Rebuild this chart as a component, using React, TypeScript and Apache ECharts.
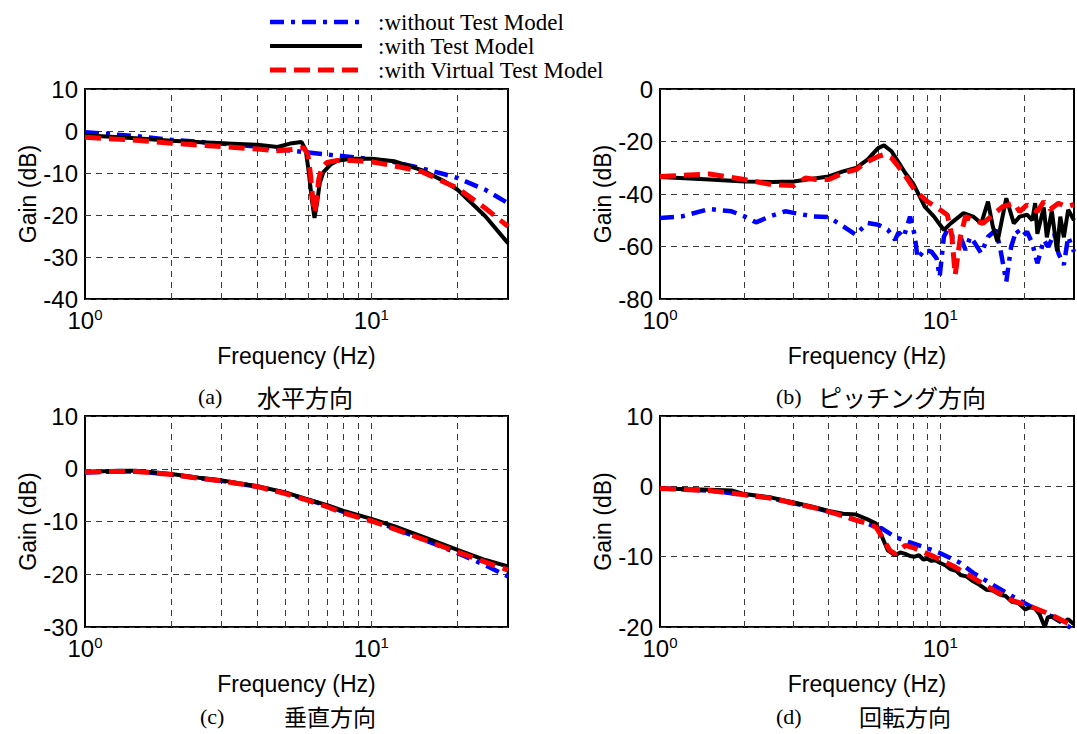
import React, { useEffect, useRef } from "react";
import * as echarts from "echarts";

// ---------- data ----------
const NAME_BLUE = ":without Test Model";
const NAME_BLACK = ":with Test Model";
const NAME_RED = ":with Virtual Test Model";

// (a) horizontal
const aBlueF = [1, 1.5, 2, 3, 4, 5, 6, 7, 8, 10, 12, 15, 18, 20, 25, 30];
const aBlueG = [-0.3, -1.2, -2.1, -3.0, -3.7, -4.5, -5.1, -5.6, -6.0, -6.7, -7.4, -8.9, -10.3, -11.2, -14.0, -17.2];
const aBlackF = [1, 1.5, 2, 3, 4, 4.7, 5.2, 5.7, 5.9, 6.05, 6.2, 6.33, 6.45, 6.6, 6.8, 7.2, 7.6, 8.5, 10, 12, 15, 18, 20, 25, 30];
const aBlackG = [-1.0, -1.7, -2.3, -2.9, -3.3, -3.8, -3.0, -2.6, -4.5, -10.0, -16.5, -20.7, -17.5, -12.5, -9.8, -8.0, -7.1, -6.6, -6.6, -7.2, -9.3, -12.0, -14.0, -20.3, -26.7];
const aRedF = [1, 1.5, 2, 3, 4, 4.7, 5.3, 5.8, 6.0, 6.12, 6.24, 6.33, 6.42, 6.55, 6.7, 7.0, 7.6, 8.5, 10, 12, 15, 18, 20, 25, 30];
const aRedG = [-1.5, -2.2, -2.9, -3.7, -4.3, -4.7, -4.4, -4.0, -5.5, -10.0, -16.0, -19.5, -17.0, -11.5, -8.8, -7.5, -7.0, -7.0, -7.3, -8.3, -9.7, -12.2, -13.6, -18.4, -22.7];

// (b) pitching
const bBlueF = [1, 1.2, 1.5, 1.8, 2, 2.2, 2.5, 2.8, 3, 3.5, 4, 4.5, 5, 5.5, 6, 6.5, 6.9, 7.1, 7.4, 7.8, 8.1, 8.3, 8.8, 9.3, 9.7, 9.95, 10.3, 10.6, 11.1, 11.8, 12.3, 12.8, 13.3, 14.0, 14.8, 15.8, 16.4, 17.2, 17.9, 18.7, 19.5, 20.4, 21.3, 22.2, 23.4, 24.3, 25.5, 26.4, 27.6, 28.6, 30];
const bBlueG = [-49.1, -48.5, -45.7, -46.6, -48.5, -50.8, -48.3, -46.6, -47.2, -48.5, -48.8, -52.3, -55.5, -51.0, -51.7, -53.6, -57.5, -54.6, -56.5, -48.6, -55.5, -64.5, -61.2, -62.0, -64.5, -71.5, -56.3, -53.7, -56.3, -56.3, -61.3, -56.3, -58.8, -62.6, -56.3, -53.7, -61.3, -73.4, -60.1, -53.7, -56.3, -54.4, -58.8, -66.4, -57.5, -60.1, -55.0, -62.6, -67.0, -56.3, -62.0];
const bBlackF = [1, 1.5, 2, 2.5, 3, 3.5, 4, 4.5, 5, 5.5, 6, 6.3, 6.7, 7.2, 7.5, 8, 8.4, 8.8, 9.5, 10.3, 10.9, 12.1, 13.1, 14.0, 14.8, 15.4, 16.0, 17.2, 18.3, 19.2, 20.4, 21.3, 21.8, 22.2, 23.4, 24, 25, 26.1, 26.8, 27.6, 28.6, 30];
const bBlackG = [-33.5, -34.5, -35.2, -35.4, -35.2, -34.2, -33.3, -31.4, -30.1, -26.9, -22.5, -21.5, -23.7, -29.0, -32.0, -36.0, -40.4, -44.8, -48.6, -53.7, -51.2, -47.3, -48.6, -51.2, -42.9, -52.4, -58.2, -41.6, -51.2, -48.6, -47.9, -50.0, -43.5, -55.2, -45.1, -56.5, -46.4, -61.7, -48.6, -56.5, -46.0, -50.0];
const bRedF = [1, 1.5, 2, 2.5, 3, 3.3, 3.6, 4, 4.5, 5, 5.5, 6, 6.3, 6.7, 7, 7.5, 8.1, 9.0, 9.8, 10.6, 11.0, 11.3, 11.8, 12.3, 13.1, 14.2, 15.4, 16.7, 18.3, 19.2, 20.4, 22.2, 23.4, 24.7, 26.4, 28.2, 30];
const bRedG = [-33.3, -32.4, -34.5, -36.4, -36.8, -33.9, -34.5, -34.5, -32.0, -30.7, -27.6, -25.7, -25.0, -26.3, -28.8, -33.0, -38.5, -42.9, -45.4, -48.0, -56.0, -70.9, -56.3, -48.6, -49.8, -51.2, -48.0, -44.8, -43.5, -46.7, -44.1, -46.7, -42.9, -45.8, -43.5, -44.8, -44.0];

// (c) vertical
const cF = [1, 1.3, 1.5, 2, 2.5, 3, 4, 5, 6, 7, 8, 10, 12, 15, 20, 25, 30];
const cBlueG = [-0.7, -0.5, -0.5, -1.1, -1.8, -2.3, -3.4, -4.6, -5.9, -7.0, -8.2, -9.7, -11.3, -13.3, -16.0, -18.3, -20.4];
const cBlackG = [-0.6, -0.4, -0.4, -1.0, -1.7, -2.2, -3.3, -4.5, -5.8, -6.9, -8.0, -9.5, -10.9, -12.8, -15.4, -17.3, -18.5];
const cRedG = [-0.6, -0.5, -0.5, -1.1, -1.8, -2.3, -3.4, -4.7, -6.0, -7.2, -8.4, -9.9, -11.4, -13.3, -15.8, -17.7, -19.2];

// (d) rotation
const dBlueF = [1, 1.5, 2, 2.5, 3, 3.5, 4, 4.5, 5, 5.5, 5.9, 6.2, 6.9, 7.7, 8.7, 10, 11.8, 13.1, 15.4, 18, 21.1, 25, 28.6, 30];
const dBlueG = [-0.3, -0.6, -1.2, -1.7, -2.4, -3.0, -3.6, -4.2, -4.8, -5.3, -5.8, -6.0, -7.2, -7.9, -8.6, -9.5, -10.9, -12.3, -14.0, -15.6, -17.1, -18.5, -19.9, -20.5];
const dBlackF = [1, 1.5, 1.8, 2, 2.5, 3, 3.5, 4, 4.5, 5, 5.5, 5.9, 6.2, 6.5, 6.9, 7.2, 7.5, 7.8, 8.1, 8.4, 8.7, 9.0, 9.3, 9.6, 10, 10.5, 10.9, 11.4, 11.8, 12.4, 13.1, 13.8, 14.6, 15.4, 16.3, 17.1, 18.0, 19.0, 20.1, 20.9, 21.7, 22.6, 23.6, 24.2, 25.3, 26.5, 27.8, 28.6, 30];
const dBlackG = [-0.3, -0.5, -0.6, -1.1, -1.6, -2.3, -2.9, -3.5, -3.9, -4.0, -4.7, -5.3, -7.2, -9.1, -9.8, -9.4, -9.6, -9.9, -10.0, -9.8, -10.4, -10.3, -10.6, -10.5, -10.9, -11.3, -11.8, -12.0, -12.6, -12.8, -13.5, -14.0, -14.7, -14.8, -15.4, -15.6, -16.4, -16.6, -17.5, -17.2, -17.3, -18.2, -20.0, -18.6, -18.5, -19.1, -19.2, -18.9, -19.6];
const dRedF = [1, 1.5, 2, 2.5, 3, 3.5, 4, 4.5, 5, 5.5, 5.9, 6.2, 6.6, 6.9, 7.5, 8.1, 9.5, 11.2, 13.1, 15.4, 18, 21.1, 25, 28.6, 30];
const dRedG = [-0.3, -0.6, -1.2, -1.7, -2.4, -3.0, -3.6, -4.2, -4.8, -5.3, -5.8, -7.2, -9.1, -9.6, -8.4, -8.8, -10.0, -11.4, -13.0, -14.7, -16.2, -17.1, -18.3, -19.5, -20.0];

const minorGridFreqs = [2, 3, 4, 5, 6, 7, 8, 9, 10, 20];

const captionLetters = ["(a)", "(b)", "(c)", "(d)"];
const captionTexts = ["水平方向", "ピッチング方向", "垂直方向", "回転方向"];

// ---------- styling ----------
const SANS = "'Liberation Sans', Arial, sans-serif";
const SERIF = "'Liberation Serif', 'Times New Roman', serif";
const CJK = "'Noto Sans CJK JP', sans-serif";

const BLUE_STYLE = { color: "#0000ff", width: 4.5, dash: [14, 7, 4, 7] };
const BLACK_STYLE = { color: "#000000", width: 4, dash: null as any };
const RED_STYLE = { color: "#ff0000", width: 5, dash: [16, 8] };

const zip = (f: number[], g: number[]) => f.map((v, i) => [v, g[i]]);

const panels = [
  { left: 85, top: 89, width: 423, height: 210, min: -40, max: 10, interval: 10,
    blue: zip(aBlueF, aBlueG), black: zip(aBlackF, aBlackG), red: zip(aRedF, aRedG) },
  { left: 660, top: 89, width: 422, height: 210, min: -80, max: 0, interval: 20,
    blue: zip(bBlueF, bBlueG), black: zip(bBlackF, bBlackG), red: zip(bRedF, bRedG) },
  { left: 85, top: 416, width: 423, height: 211, min: -30, max: 10, interval: 10,
    blue: zip(cF, cBlueG), black: zip(cF, cBlackG), red: zip(cF, cRedG) },
  { left: 660, top: 416, width: 422, height: 211, min: -20, max: 10, interval: 10,
    blue: zip(dBlueF, dBlueG), black: zip(dBlackF, dBlackG), red: zip(dRedF, dRedG) },
];

const captionPos = [
  { lx: 198, kx: 257, y: 396, fs: 24 },
  { lx: 776, kx: 818, y: 396, fs: 24 },
  { lx: 200, kx: 284, y: 716, fs: 23 },
  { lx: 776, kx: 859, y: 716, fs: 23 },
];

const legendRows = [
  { name: NAME_BLUE, style: BLUE_STYLE, y: 22 },
  { name: NAME_BLACK, style: BLACK_STYLE, y: 46 },
  { name: NAME_RED, style: RED_STYLE, y: 70 },
];

function lineSeries(name: string, s: any, i: number, data: number[][], z: number) {
  return {
    name, type: "line", xAxisIndex: i, yAxisIndex: i, data,
    showSymbol: false, symbol: "none", z,
    lineStyle: { color: s.color, width: s.width, type: s.dash || "solid" },
    itemStyle: { color: s.color },
  };
}

function buildOption() {
  const grid: any[] = [];
  const xAxis: any[] = [];
  const yAxis: any[] = [];
  const series: any[] = [];
  const gridLine = { color: "#3a3a3a", type: [6, 5], width: 1 };

  panels.forEach((p, i) => {
    grid.push({
      left: p.left, top: p.top, width: p.width, height: p.height,
      show: true, borderColor: "#000", borderWidth: 2, backgroundColor: "transparent",
    });
    xAxis.push({
      type: "log", logBase: 10, gridIndex: i, min: 1, max: 30,
      name: "Frequency (Hz)", nameLocation: "middle", nameGap: 45,
      nameTextStyle: { fontFamily: SANS, fontSize: 23, color: "#000" },
      axisLine: { show: false },
      axisTick: { show: false },
      splitLine: { show: false },
      axisLabel: {
        margin: 8,
        color: "#000",
        formatter: (v: number) => {
          const e = Math.log10(v);
          if (Math.abs(e - Math.round(e)) < 1e-6) return `{b|10}{s|${Math.round(e)}}`;
          return "";
        },
        rich: {
          b: { fontFamily: SANS, fontSize: 24, color: "#000", lineHeight: 26 },
          s: { fontFamily: SANS, fontSize: 15, color: "#000", verticalAlign: "top", lineHeight: 26, padding: [0, 0, 12, 0] },
        },
      },
    });
    yAxis.push({
      type: "value", gridIndex: i, min: p.min, max: p.max, interval: p.interval,
      name: "Gain (dB)", nameLocation: "middle", nameGap: 46, nameRotate: 90,
      nameTextStyle: { fontFamily: SANS, fontSize: 23, color: "#000" },
      axisLine: { show: false },
      axisTick: { show: false },
      splitLine: { show: true, lineStyle: gridLine },
      axisLabel: { margin: 7, fontFamily: SANS, fontSize: 24, color: "#000" },
    });
    series.push({
      type: "line", xAxisIndex: i, yAxisIndex: i, data: [], z: 1, silent: true,
      markLine: {
        silent: true, symbol: ["none", "none"], animation: false, z: 1,
        label: { show: false }, lineStyle: gridLine,
        data: minorGridFreqs.map((f) => ({ xAxis: f })),
      },
    });
    series.push(lineSeries(NAME_BLUE, BLUE_STYLE, i, p.blue, 3));
    series.push(lineSeries(NAME_BLACK, BLACK_STYLE, i, p.black, 4));
    series.push(lineSeries(NAME_RED, RED_STYLE, i, p.red, 5));
  });

  const graphic: any[] = [];
  // legend (drawn as graphic elements)
  legendRows.forEach((r) => {
    graphic.push({
      type: "line", silent: true,
      shape: { x1: 270, y1: r.y, x2: 362, y2: r.y },
      style: { stroke: r.style.color, lineWidth: r.style.width, lineDash: r.style.dash || null },
    });
    graphic.push({
      type: "text", x: 378, y: r.y, silent: true,
      style: { text: r.name, fontFamily: SERIF, fontSize: 23, fill: "#000", textVerticalAlign: "middle", textAlign: "left" },
    });
  });
  // captions
  captionPos.forEach((c, i) => {
    graphic.push({
      type: "text", x: c.lx, y: c.y, silent: true,
      style: { text: captionLetters[i], fontFamily: SERIF, fontSize: 22, fill: "#000", textVerticalAlign: "middle", textAlign: "left" },
    });
    graphic.push({
      type: "text", x: c.kx, y: c.y, silent: true,
      style: { text: captionTexts[i], fontFamily: CJK, fontSize: c.fs, fill: "#000", textVerticalAlign: "middle", textAlign: "left" },
    });
  });

  return {
    animation: false,
    backgroundColor: "#ffffff",
    grid, xAxis, yAxis, series, graphic,
  };
}

export default function App() {
  const ref = useRef<HTMLDivElement>(null);
  useEffect(() => {
    if (!ref.current) return;
    const chart = echarts.init(ref.current, null, { renderer: "svg" });
    chart.setOption(buildOption() as any);
    return () => chart.dispose();
  }, []);
  return (
    <div
      ref={ref}
      style={{ position: "fixed", left: 0, top: 0, width: 1077, height: 734, background: "#fff" }}
    />
  );
}
